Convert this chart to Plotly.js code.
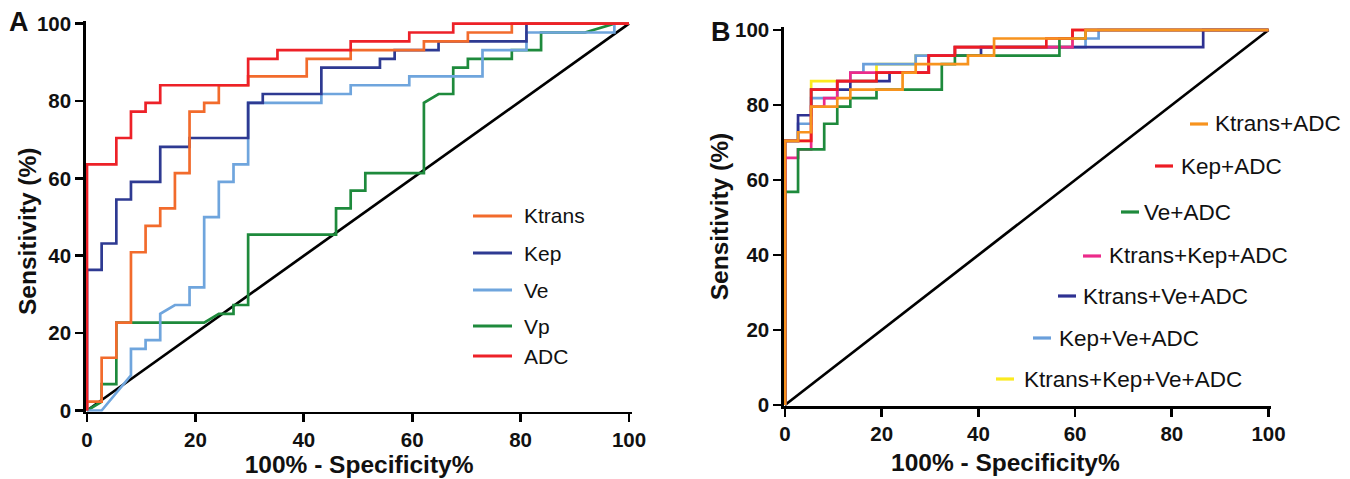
<!DOCTYPE html>
<html>
<head>
<meta charset="utf-8">
<script src="https://cdn.plot.ly/plotly-3.0.1.min.js"></script>
<style>html,body{margin:0;padding:0;background:#fff;}#chart{width:1350px;height:479px;}</style>
</head>
<body>
<div id="chart"></div>
<script>
// ---------------- DATA (%) ----------------
const tickVals = [0, 20, 40, 60, 80, 100];
const diagX = [0, 100];
const diagY = [0, 100];
const xTitle = "100% - Specificity%";
const yTitle = "Sensitivity (%)";

// Panel A
const namesA = ["Ktrans", "Kep", "Ve", "Vp", "ADC"];
const ktransX = [0,0,2.70,2.70,5.41,5.41,8.11,8.11,10.81,10.81,13.51,13.51,16.22,16.22,18.92,18.92,21.62,21.62,24.32,24.32,29.73,29.73,40.54,40.54,48.65,48.65,62.16,62.16,70.27,70.27,78.38,78.38,100];
const ktransY = [0,2.27,2.27,13.64,13.64,22.73,22.73,40.91,40.91,47.73,47.73,52.27,52.27,61.36,61.36,77.27,77.27,79.55,79.55,84.09,84.09,86.36,86.36,90.91,90.91,93.18,93.18,95.45,95.45,97.73,97.73,100,100];
const kepX = [0,0,2.70,2.70,5.41,5.41,8.11,8.11,13.51,13.51,18.92,18.92,29.73,29.73,32.43,32.43,43.24,43.24,54.05,54.05,56.76,56.76,64.86,64.86,81.08,81.08,100];
const kepY = [0,36.36,36.36,43.18,43.18,54.55,54.55,59.09,59.09,68.18,68.18,70.45,70.45,79.55,79.55,81.82,81.82,88.64,88.64,90.91,90.91,93.18,93.18,95.45,95.45,100,100];
const veX = [0,2.70,8.11,8.11,10.81,10.81,13.51,13.51,16.22,18.92,18.92,21.62,21.62,24.32,24.32,27.03,27.03,29.73,29.73,43.24,43.24,48.65,48.65,59.46,59.46,72.97,72.97,81.08,81.08,97.30,97.30,100];
const veY = [0,0,9.09,15.91,15.91,18.18,18.18,25.00,27.27,27.27,31.82,31.82,50.00,50.00,59.09,59.09,63.64,63.64,79.55,79.55,81.82,81.82,84.09,84.09,86.36,86.36,93.18,93.18,97.73,97.73,100,100];
const vpX = [0,2.70,2.70,5.41,5.41,21.62,24.32,27.03,27.03,29.73,29.73,45.95,45.95,48.65,48.65,51.35,51.35,62.16,62.16,64.86,67.57,67.57,70.27,70.27,78.38,78.38,83.78,83.78,91.89,97.30,100];
const vpY = [0,2.27,6.82,6.82,22.73,22.73,25.00,25.00,27.27,27.27,45.45,45.45,52.27,52.27,56.82,56.82,61.36,61.36,79.55,81.82,81.82,88.64,88.64,90.91,90.91,93.18,93.18,97.73,97.73,100,100];
const adcX = [0,0,5.41,5.41,8.11,8.11,10.81,10.81,13.51,13.51,29.73,29.73,35.14,35.14,48.65,48.65,59.46,59.46,67.57,67.57,100];
const adcY = [0,63.64,63.64,70.45,70.45,77.27,77.27,79.55,79.55,84.09,84.09,90.91,90.91,93.18,93.18,95.45,95.45,97.73,97.73,100,100];

// Panel B
const namesB = ["Ktrans+ADC", "Kep+ADC", "Ve+ADC", "Ktrans+Kep+ADC", "Ktrans+Ve+ADC", "Kep+Ve+ADC", "Ktrans+Kep+Ve+ADC"];
const kaX = [0,0,2.70,2.70,5.41,5.41,10.81,10.81,13.51,13.51,24.32,24.32,27.03,27.03,37.84,37.84,43.24,43.24,62.16,62.16,100];
const kaY = [0,70.45,70.45,72.73,72.73,79.55,79.55,81.82,81.82,84.09,84.09,88.64,88.64,90.91,90.91,93.18,93.18,97.73,97.73,100,100];
const keaX = [0,0,5.41,5.41,10.81,10.81,18.92,18.92,29.73,29.73,35.14,35.14,54.05,54.05,59.46,59.46,100];
const keaY = [0,70.45,70.45,84.09,84.09,86.36,86.36,88.64,88.64,93.18,93.18,95.45,95.45,97.73,97.73,100,100];
const veaX = [0,0,2.70,2.70,8.11,8.11,10.81,10.81,13.51,13.51,18.92,18.92,32.43,32.43,35.14,35.14,56.76,56.76,62.16,62.16,100];
const veaY = [0,56.82,56.82,68.18,68.18,75.00,75.00,79.55,79.55,81.82,81.82,84.09,84.09,90.91,90.91,93.18,93.18,97.73,97.73,100,100];
const kkaX = [0,0,2.70,2.70,5.41,5.41,8.11,8.11,10.81,10.81,13.51,13.51,29.73,29.73,35.14,35.14,59.46,59.46,100];
const kkaY = [0,65.91,65.91,68.18,68.18,79.55,79.55,81.82,81.82,86.36,86.36,88.64,88.64,93.18,93.18,95.45,95.45,100,100];
const kvaX = [0,0,2.70,2.70,5.41,5.41,13.51,13.51,21.62,21.62,29.73,29.73,40.54,40.54,86.49,86.49,100];
const kvaY = [0,70.45,70.45,77.27,77.27,84.09,84.09,86.36,86.36,88.64,88.64,93.18,93.18,95.45,95.45,100,100];
const kevaX = [0,0,2.70,2.70,5.41,5.41,10.81,10.81,13.51,13.51,16.22,16.22,27.03,27.03,29.73,29.73,35.14,35.14,62.16,62.16,64.86,64.86,100];
const kevaY = [0,70.45,70.45,75.00,75.00,81.82,81.82,86.36,86.36,88.64,88.64,90.91,90.91,93.18,93.18,93.18,93.18,95.45,95.45,97.73,97.73,100,100];
const allX = [0,0,5.41,5.41,18.92,18.92,27.03,27.03,35.14,35.14,59.46,59.46,100];
const allY = [0,70.45,70.45,86.36,86.36,90.91,90.91,93.18,93.18,95.45,95.45,100,100];

// ---------------- STYLE ----------------
const W = 1350, H = 479;
const FONT = "Liberation Sans, Arial, Helvetica, sans-serif";
const colA = {Ktrans: "#F26B2C", Kep: "#2E3A92", Ve: "#6FA5DD", Vp: "#1E8A3C", ADC: "#ED2128"};
const colB = ["#F7931E", "#ED1C24", "#1E8A3C", "#EC2A8A", "#2E3192", "#6A9FDB", "#FBEA1F"];
const LW = 2.7;
const titleFont = {family: FONT, size: 24.5, color: "#111", weight: "bold"};

function xDom(p0, p100, lo, hi) {
  const ppu = (p100 - p0) / 100;
  return [(p0 + lo * ppu) / W, (p0 + hi * ppu) / W];
}
function yDom(p0, p100, lo, hi) {
  const ppu = (p0 - p100) / 100;
  return [(H - (p0 - lo * ppu)) / H, (H - (p0 - hi * ppu)) / H];
}
const XR = [-0.2, 100.6], YR = [-0.3, 100.8];

function line(x, y, color, xa, ya) {
  return {x: x, y: y, type: "scatter", mode: "lines", xaxis: xa, yaxis: ya,
          line: {color: color, width: LW, shape: "linear"}, hoverinfo: "skip", showlegend: false};
}

const traces = [
  line(diagX, diagY, "#000", "x", "y"),
  line(vpX, vpY, colA.Vp, "x", "y"),
  line(veX, veY, colA.Ve, "x", "y"),
  line(kepX, kepY, colA.Kep, "x", "y"),
  line(ktransX, ktransY, colA.Ktrans, "x", "y"),
  line(adcX, adcY, colA.ADC, "x", "y"),

  line(diagX, diagY, "#000", "x2", "y2"),
  line(allX, allY, colB[6], "x2", "y2"),
  line(kevaX, kevaY, colB[5], "x2", "y2"),
  line(kvaX, kvaY, colB[4], "x2", "y2"),
  line(kkaX, kkaY, colB[3], "x2", "y2"),
  line(veaX, veaY, colB[2], "x2", "y2"),
  line(keaX, keaY, colB[1], "x2", "y2"),
  line(kaX, kaY, colB[0], "x2", "y2")
];

function axis(domain, range, title, anchor, standoff) {
  return {
    domain: domain, range: range, anchor: anchor,
    showgrid: false, zeroline: false, showline: true, linecolor: "#000", linewidth: LW,
    ticks: "outside", ticklen: 8, tickwidth: LW, tickcolor: "#000",
    tickmode: "array", tickvals: tickVals,
    tickfont: {family: FONT, size: 20.5, color: "#111", weight: "bold"},
    title: {text: title, font: titleFont, standoff: standoff},
    fixedrange: true
  };
}

// legend positions (pixels)
const legA = {x0: 473, x1: 512, tx: 522, ys: [216, 253, 290, 326, 356]};
const legB = {x0: [1190, 1155, 1121, 1083, 1058, 1033, 996],
              tx: [1213, 1179, 1142, 1107, 1081, 1057, 1022],
              ys: [124, 166, 212, 256, 296, 338, 379], len: 18};

const shapes = [], annotations = [];
namesA.forEach((n, i) => {
  shapes.push({type: "line", xref: "paper", yref: "paper",
    x0: legA.x0 / W, x1: legA.x1 / W, y0: 1 - legA.ys[i] / H, y1: 1 - legA.ys[i] / H,
    line: {color: colA[n], width: 3.2}});
  annotations.push({xref: "paper", yref: "paper", x: legA.tx / W, y: 1 - legA.ys[i] / H,
    xanchor: "left", yanchor: "middle", showarrow: false, text: n,
    font: {family: FONT, size: 21, color: "#111"}});
});
namesB.forEach((n, i) => {
  shapes.push({type: "line", xref: "paper", yref: "paper",
    x0: legB.x0[i] / W, x1: (legB.x0[i] + legB.len) / W, y0: 1 - legB.ys[i] / H, y1: 1 - legB.ys[i] / H,
    line: {color: colB[i], width: 3.2}});
  annotations.push({xref: "paper", yref: "paper", x: legB.tx[i] / W, y: 1 - legB.ys[i] / H,
    xanchor: "left", yanchor: "middle", showarrow: false, text: n,
    font: {family: FONT, size: 22.5, color: "#111"}});
});
annotations.push({xref: "paper", yref: "paper", x: 19 / W, y: 1 - 22 / H, xanchor: "center", yanchor: "middle",
  showarrow: false, text: "A", font: {family: FONT, size: 27, color: "#111", weight: "bold"}});
annotations.push({xref: "paper", yref: "paper", x: 721 / W, y: 1 - 32 / H, xanchor: "center", yanchor: "middle",
  showarrow: false, text: "B", font: {family: FONT, size: 27, color: "#111", weight: "bold"}});
// axis titles placed off-centre in the original figure
annotations.push({xref: "paper", yref: "paper", x: 27 / W, y: 1 - 232 / H, xanchor: "center", yanchor: "middle",
  textangle: -90, showarrow: false, text: yTitle, font: titleFont});
annotations.push({xref: "paper", yref: "paper", x: 1005 / W, y: 1 - 462 / H, xanchor: "center", yanchor: "middle",
  showarrow: false, text: xTitle, font: titleFont});

const xaA = axis(xDom(87, 629, XR[0], XR[1]), XR, xTitle, "y", 5);
const yaA = axis(yDom(410.5, 23.7, YR[0], YR[1]), YR, "", "x", 2);
const xaB = axis(xDom(785, 1268.5, XR[0], XR[1]), XR, "", "y2", 5);
const yaB = axis(yDom(405, 30, YR[0], YR[1]), YR, yTitle, "x2", 0);

const layout = {
  width: W, height: H, autosize: false,
  margin: {l: 0, r: 0, t: 0, b: 0},
  paper_bgcolor: "#fff", plot_bgcolor: "#fff",
  showlegend: false,
  xaxis: xaA, yaxis: yaA, xaxis2: xaB, yaxis2: yaB,
  shapes: shapes,
  annotations: annotations
};

Plotly.newPlot("chart", traces, layout, {staticPlot: true, displayModeBar: false});
</script>
</body>
</html>
